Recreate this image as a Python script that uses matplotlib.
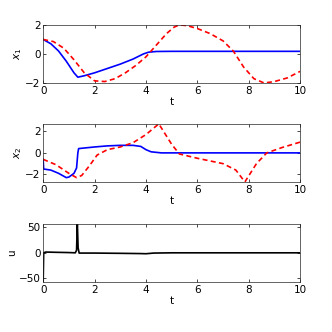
import numpy as np
import matplotlib
matplotlib.use('agg')
import matplotlib.pyplot as plt

# x1 trajectories
t_x1_a = [0, 0.3, 0.6, 0.9, 1.2, 1.35, 1.6, 2.0, 2.5, 3.0, 3.5, 3.9, 4.1, 4.4, 5.0, 10.0]
x1_a = [1.0, 0.7, 0.2, -0.5, -1.3, -1.6, -1.5, -1.3, -1.0, -0.7, -0.35, 0.0, 0.12, 0.17, 0.18, 0.18]
t_x1_b = [0, 0.4, 0.8, 1.2, 1.6, 2.0, 2.4, 2.8, 3.2, 3.6, 4.0, 4.4, 4.8, 5.1, 5.3, 5.6,
          6.0, 6.5, 7.0, 7.4, 7.8, 8.2, 8.6, 9.0, 9.5, 10.0]
x1_b = [1.0, 0.85, 0.4, -0.4, -1.3, -1.85, -1.9, -1.7, -1.3, -0.8, -0.2, 0.6, 1.4, 1.85, 2.0, 1.95,
        1.75, 1.4, 0.9, 0.2, -0.9, -1.7, -2.0, -1.9, -1.65, -1.2]

# x2 trajectories
t_x2_a = [0, 0.02, 0.3, 0.6, 0.9, 1.0, 1.2, 1.3, 1.35, 1.38, 2.0, 2.5, 3.0, 3.5, 3.8, 4.0, 4.2, 4.6, 10.0]
x2_a = [-0.6, -1.5, -1.6, -1.9, -2.3, -2.25, -1.9, -1.4, 0.0, 0.4, 0.55, 0.65, 0.7, 0.7, 0.6, 0.3, 0.1, 0.0, 0.0]
t_x2_b = [0, 0.5, 1.0, 1.3, 1.5, 1.8, 2.1, 2.5, 3.0, 3.5, 4.0, 4.5, 5.0, 5.3, 6.0, 7.0, 7.5,
          7.85, 8.3, 8.7, 9.3, 10.0]
x2_b = [-0.6, -1.1, -1.9, -2.3, -2.1, -1.2, -0.2, 0.3, 0.55, 0.95, 1.7, 2.7, 0.8, -0.1, -0.5, -1.0, -1.6,
        -2.7, -1.0, 0.0, 0.5, 1.0]

# control input
t_u = [0, 0.02, 0.1, 0.5, 1.0, 1.25, 1.3, 1.33, 1.36, 1.4, 2.0, 3.0, 3.8, 4.0, 4.3, 5.0, 10.0]
u = [-60, 0, 1.5, 1.0, 0.5, 0.0, 5, 60, 10, -0.5, -0.5, -1.0, -1.5, -1.8, -0.5, 0.0, 0.0]

plt.rcParams['font.size'] = 7.5
fig = plt.figure(figsize=(3.32, 3.32), dpi=100)

def style(ax, ylab, ylim, yticks):
    ax.set_xlim(0, 10)
    ax.set_ylim(*ylim)
    ax.set_xticks(np.arange(0, 11, 2))
    ax.set_yticks(yticks)
    ax.tick_params(direction='in', top=True, right=True, length=2.5, width=0.5, pad=2)
    for s in ax.spines.values():
        s.set_linewidth(0.5)
        s.set_color('#262626')
    ax.set_xlabel('t', labelpad=1)
    ax.set_ylabel(ylab, labelpad=1)

ax1 = fig.add_axes([0.13, 0.75, 0.774, 0.175])
ax1.plot(t_x1_a, x1_a, color='blue', lw=1.2)
ax1.plot(t_x1_b, x1_b, color='red', lw=1.2, ls='--', dashes=(3, 2))
style(ax1, '$x_1$', (-2, 2), [-2, 0, 2])

ax2 = fig.add_axes([0.13, 0.452, 0.774, 0.175])
ax2.plot(t_x2_a, x2_a, color='blue', lw=1.2)
ax2.plot(t_x2_b, x2_b, color='red', lw=1.2, ls='--', dashes=(3, 2))
style(ax2, '$x_2$', (-2.7, 2.7), [-2, 0, 2])

ax3 = fig.add_axes([0.13, 0.151, 0.774, 0.175])
ax3.plot(t_u, u, color='black', lw=1.2)
style(ax3, 'u', (-57, 57), [-50, 0, 50])

plt.savefig('out.png', dpi=100)
